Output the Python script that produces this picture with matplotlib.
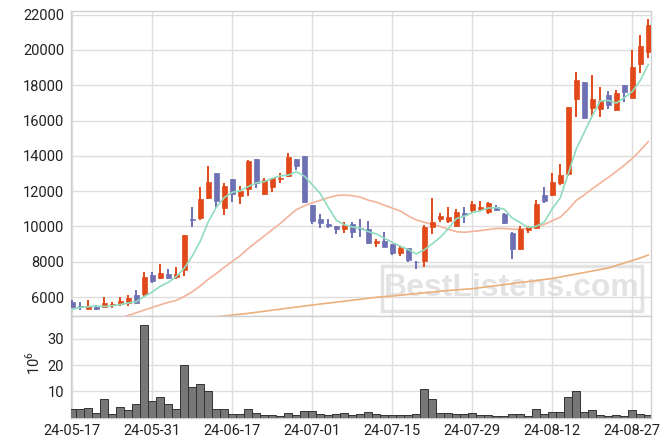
import numpy as np
import pandas as pd
import matplotlib
matplotlib.use("Agg")
import matplotlib.pyplot as plt
from matplotlib.patches import Rectangle

# ---------------- data ----------------
start_date = "2024-05-17"
end_date = "2024-08-29"
holidays = ["2024-06-06", "2024-08-15"]

opens = [5734, 5507, 5303, 5433, 5416, 5529, 5586, 5677, 6096, 6170,
         7247, 7060, 7304, 7134, 7548, 10423, 10462, 11613, 13031, 11063,
         12691, 11727, 12141, 13825, 11840, 12220, 12708, 12861, 13825, 13995,
         11205, 10423, 10139, 10026, 9827, 10139, 9895, 9856, 9079, 9175,
         9005, 8512, 8761, 7985, 8058, 9986, 10440, 10309, 9997, 10746,
         10933, 11007, 10837, 11120, 10706, 9612, 8722, 9799, 9929, 11783,
         11783, 12481, 12974, 17244, 18191, 16733, 16660, 17436, 16586, 18003,
         17300, 19194, 19875]
highs = [5830, 5734, 5813, 5563, 6000, 5700, 6000, 6113, 6397, 7400,
         7435, 7854, 7571, 7684, 9515, 11086, 12254, 13428, 13031, 12481,
         12691, 12294, 13768, 13825, 12764, 12764, 13014, 14182, 13825, 13995,
         11216, 10706, 10423, 10026, 10224, 10224, 10394, 10281, 9277, 9657,
         9005, 8892, 8761, 8053, 10082, 11585, 10763, 11086, 10973, 11086,
         11460, 11460, 11370, 11200, 10746, 9703, 10026, 10026, 11500, 12220,
         13014, 13541, 16773, 18758, 18191, 18571, 17890, 17680, 17720, 18003,
         20005, 20855, 21734]
lows = [5359, 5263, 5303, 5246, 5359, 5359, 5490, 5490, 5643, 6017,
        6777, 7004, 7004, 7021, 7191, 9986, 10366, 11557, 11029, 10649,
        11404, 11273, 11744, 12198, 11783, 11936, 12481, 12821, 13201, 11313,
        10111, 9895, 9895, 9544, 9629, 9328, 9419, 8994, 8818, 8807,
        8353, 8325, 8002, 7616, 7718, 9572, 10224, 10179, 9969, 10213,
        10746, 10893, 10689, 10859, 10139, 8138, 8665, 9612, 9895, 11347,
        11698, 12333, 12861, 16223, 16110, 16189, 16189, 16676, 16546, 17057,
        17300, 18684, 19534]
closes = [5416, 5416, 5507, 5320, 5660, 5620, 5773, 5943, 5677, 7134,
          6907, 7361, 7077, 7304, 9515, 10383, 11557, 12520, 11443, 12294,
          11840, 12027, 13711, 12481, 12634, 12764, 12747, 13921, 13445, 11387,
          10326, 10213, 10026, 9827, 10082, 9702, 9839, 9079, 9192, 8852,
          8506, 8795, 8098, 7967, 9986, 10253, 10610, 10536, 10820, 10666,
          11273, 11120, 11330, 10950, 10213, 8739, 9856, 9952, 11273, 11426,
          12520, 12934, 16773, 18304, 16149, 17227, 17113, 16903, 17567, 17641,
          19024, 20232, 21422]
# volume in millions of shares
volumes = [3.2, 3.2, 3.6, 1.7, 7.1, 1.3, 4.0, 2.9, 5.2, 35.3,
           6.3, 7.7, 5.2, 3.2, 20.0, 11.6, 12.8, 10.1, 3.2, 3.2,
           1.2, 1.2, 3.2, 1.7, 0.8, 0.8, 0.4, 1.7, 0.8, 2.5,
           2.5, 1.3, 1.0, 1.3, 1.7, 0.8, 1.3, 2.1, 1.3, 0.8,
           0.8, 0.8, 0.8, 1.3, 10.9, 7.1, 1.7, 1.7, 1.3, 1.3,
           1.7, 0.8, 0.8, 0.4, 0.4, 1.3, 1.3, 0.4, 3.2, 1.3,
           2.1, 2.1, 7.8, 10.1, 2.1, 2.9, 0.8, 0.4, 0.8, 0.4,
           2.9, 1.3, 0.8]
# moving-average values before enough in-window history
ma5_head = [5300, 5410, 5450, 5480]
ma20_head = [4200, 4300, 4400, 4500, 4600, 4700, 4820, 4960, 5110, 5260,
             5410, 5560, 5700, 5805, 6031, 6300, 6628, 7004, 7326]
# long moving average, read at these day indices
ma_long_idx = [14, 20, 22, 30, 38, 40, 47, 50, 60, 67, 71, 72]
ma_long_val = [4680, 4979, 5076, 5546, 5983, 6057, 6370, 6471, 7050, 7644, 8211, 8381]

price_ticks = [6000, 8000, 10000, 12000, 14000, 16000, 18000, 20000, 22000]
vol_ticks = [10, 20, 30]
tick_every = 10

# ---------------- derived ----------------
dates = pd.bdate_range(start_date, end_date)
dates = dates.drop(pd.to_datetime(holidays))
n = len(dates)
x = np.arange(n)
o = np.array(opens, float); h = np.array(highs, float)
l = np.array(lows, float); c = np.array(closes, float)
vol = np.array(volumes, float)

cs = pd.Series(c)
ma5 = cs.rolling(5).mean().values
ma5[:len(ma5_head)] = ma5_head
ma20 = cs.rolling(20).mean().values
ma20[:len(ma20_head)] = ma20_head

# ---------------- style ----------------
plt.rcParams["font.family"] = ["Roboto", "DejaVu Sans"]
plt.rcParams["mathtext.fontset"] = "custom"
plt.rcParams["mathtext.rm"] = "Roboto"
UP = "#E2491A"
DOWN = "#6D70B3"
GRID = "#dedede"
SPINE = "#cfcfcf"

fig = plt.figure(figsize=(6.71, 4.46), dpi=100)
W, H = 671, 446
L, R = 71, 651
ax = fig.add_axes([L / W, 1 - 316 / H, (R - L) / W, (316 - 11) / H])
axv = fig.add_axes([L / W, 1 - 417.5 / H, (R - L) / W, (417.5 - 316) / H], sharex=ax)

for a in (ax, axv):
    a.set_facecolor("white")
    a.grid(True, color=GRID, lw=1.0)
    a.set_axisbelow(True)
    for s in a.spines.values():
        s.set_color(SPINE)
        s.set_linewidth(1.0)
    a.tick_params(length=0, labelsize=10.5, colors="#222222", pad=5)

up = c >= o
colors = np.where(up, UP, DOWN)
ax.vlines(x, l, h, colors=colors, lw=1.4, zorder=3)
body_lo = np.minimum(o, c)
body_h = np.maximum(np.abs(c - o), 30)
ax.bar(x, body_h, bottom=body_lo, width=0.66, color=colors, edgecolor=colors,
       lw=0.5, zorder=4)

ax.plot(x, ma5, color="#90DCC0", lw=1.2, zorder=5)
ax.plot(x, ma20, color="#F2B39A", lw=1.2, zorder=2.5)
ax.plot(ma_long_idx, ma_long_val, color="#EBB07C", lw=1.2, zorder=2.5)

# watermark
wm_x0, wm_y0 = 382, 266
wm_x1, wm_y1 = 642, 311
rect = Rectangle((wm_x0 / W, 1 - wm_y1 / H), (wm_x1 - wm_x0) / W, (wm_y1 - wm_y0) / H,
                 transform=fig.transFigure, fill=False, edgecolor="#dcdcdc",
                 lw=2.5, alpha=0.8, zorder=2)
ax.add_artist(rect)
rect.set_clip_on(False)
ax.text((wm_x0 + wm_x1) / 2 / W, 1 - (wm_y0 + wm_y1) / 2 / H, "BestListens.com",
        transform=fig.transFigure, ha="center", va="center",
        fontsize=23, fontweight="bold", family=["Liberation Sans", "DejaVu Sans"],
        color="#dadada", alpha=0.75, zorder=2)

ax.set_ylim(4924, 22210)
ax.set_yticks(price_ticks)
ax.set_yticklabels([str(t) for t in price_ticks])
ax.set_xlim(-0.16, 72.34)
plt.setp(ax.get_xticklabels(), visible=False)

axv.bar(x, vol, width=1.0, color="#777777", edgecolor="#333333", lw=0.7, zorder=3)
axv.set_ylim(0, 38.7)
axv.set_yticks(vol_ticks)
tick_pos = x[::tick_every]
axv.set_xticks(tick_pos)
axv.set_xticklabels([d.strftime("%y-%m-%d") for d in dates[::tick_every]])
fig.text(33 / W, 1 - 363 / H, r"$10^{6}$", rotation=90, ha="center", va="center",
         fontsize=10.5, color="#222222")

fig.savefig("out.png", dpi=100)
